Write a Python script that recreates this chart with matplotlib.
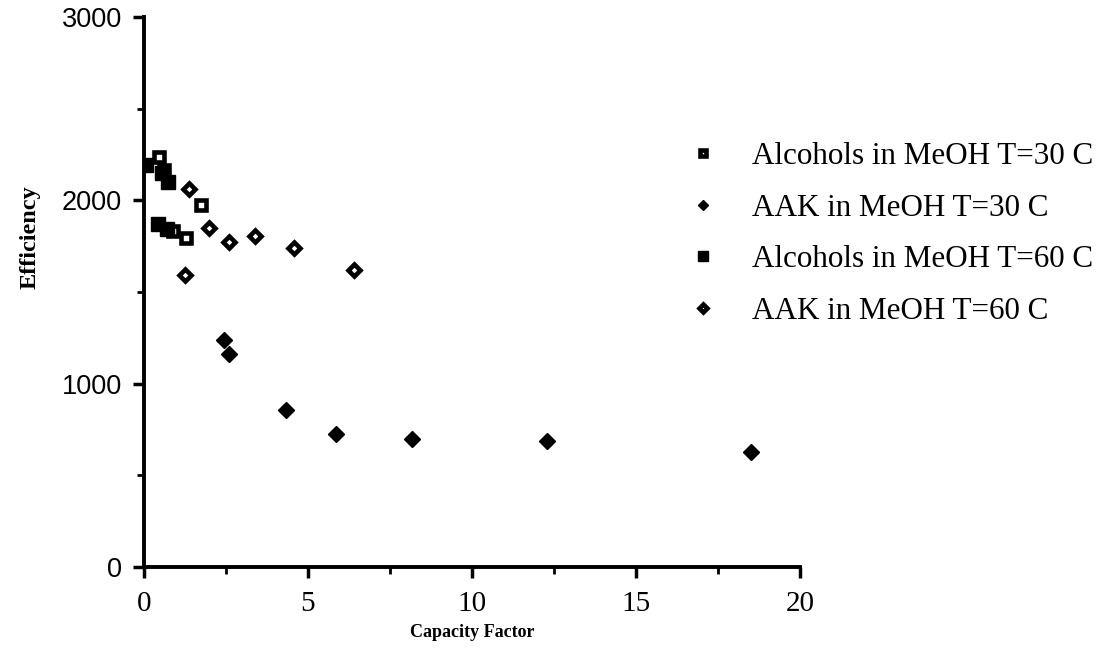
import matplotlib.pyplot as plt
from matplotlib.ticker import MultipleLocator

# Capacity factor (k') vs efficiency (plates)
alc30_k = [0.46, 0.60, 1.74, 0.88, 1.28]
alc30_n = [2235, 2165, 1975, 1830, 1795]

aak30_k = [2.44, 2.60, 4.33, 5.85, 8.17, 12.3, 18.5]
aak30_n = [1240, 1160, 855, 725, 700, 685, 630]

alc60_k = [0.06, 0.55, 0.73, 0.43, 0.70]
alc60_n = [2190, 2150, 2100, 1870, 1845]

aak60_k = [1.37, 1.98, 2.60, 3.40, 4.57, 6.40, 1.25]
aak60_n = [2060, 1850, 1770, 1805, 1740, 1620, 1595]

labels = ['Alcohols in MeOH T=30 C', 'AAK in MeOH T=30 C',
          'Alcohols in MeOH T=60 C', 'AAK in MeOH T=60 C']

plt.rcParams['font.family'] = ['Liberation Serif', 'DejaVu Serif']

fig = plt.figure(figsize=(11.04, 6.51), dpi=100)
ax = fig.add_axes([0.1304, 0.129, 0.5942, 0.845])

ax.plot(alc30_k, alc30_n, 's', ms=7, mfc='white', mec='black', mew=3.3,
        ls='none', label=labels[0])
ax.plot(aak30_k, aak30_n, 'D', ms=8, mfc='black', mec='black',
        ls='none', label=labels[1])
ax.plot(alc60_k, alc60_n, 's', ms=10.5, mfc='black', mec='black',
        ls='none', label=labels[2])
ax.plot(aak60_k, aak60_n, 'D', ms=6.5, mfc='white', mec='black', mew=3.3,
        ls='none', label=labels[3])

ax.set_xlim(0, 20)
ax.set_ylim(0, 3000)
ax.xaxis.set_major_locator(MultipleLocator(5))
ax.xaxis.set_minor_locator(MultipleLocator(2.5))
ax.yaxis.set_major_locator(MultipleLocator(1000))
ax.yaxis.set_minor_locator(MultipleLocator(500))

for s in ['top', 'right']:
    ax.spines[s].set_visible(False)
for s in ['left', 'bottom']:
    ax.spines[s].set_linewidth(2.8)

ax.tick_params(which='major', direction='out', length=8, width=2.5)
ax.tick_params(which='minor', direction='out', length=5, width=2)
ax.tick_params(axis='x', which='major', pad=9, labelsize=21)
ax.tick_params(axis='y', which='major', pad=8, labelsize=19.5,
               labelfontfamily='Liberation Sans')

ax.set_xlabel('Capacity Factor', fontweight='bold', fontsize=13, labelpad=5)
ax.set_ylabel('Efficiency', fontweight='bold', fontsize=17.5)
ax.yaxis.set_label_coords(-0.157, 0.60)

# legend to the right of the axes
leg = ax.legend(loc='upper left', bbox_to_anchor=(0.5974, 0.825),
                bbox_transform=fig.transFigure, frameon=False,
                prop={'size': 22.4}, markerscale=0.62,
                handlelength=1.0, handletextpad=1.08, labelspacing=0.73)

fig.savefig('out.png', dpi=100)
